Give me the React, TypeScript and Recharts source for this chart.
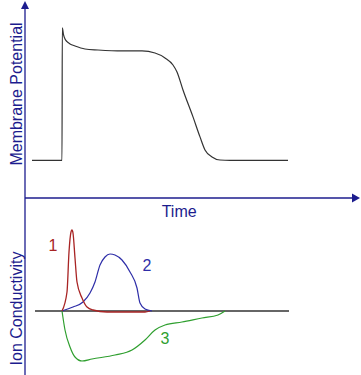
import React from "react"
import { LineChart, Line, XAxis, YAxis, Label, ReferenceDot } from "recharts"

// time axis (arbitrary units), shared by both panels
const timeDomain = [0, 328]

// membrane potential (mV) over time
const apTime = [7, 37, 37.3, 38.5, 40, 42, 45, 50, 60, 73, 97, 117, 130, 140, 148, 152, 158, 168, 175, 180, 187, 195, 205, 263]
const apVoltage = [-90, -90, 30, 24, 20, 17.5, 15.5, 13.6, 10.9, 10, 9.1, 9.1, 7.3, 2.8, -3.6, -9.9, -26.2, -50.6, -68.7, -80.5, -86.8, -89.6, -90, -90]

// ion conductivities (arbitrary units), each with its own time points
const baseTime = [10, 264]
const baseG = [0, 0]
const g1Time = [37, 42, 44, 46, 47, 48, 50, 52, 57, 62, 68, 82, 120, 125]
const g1Values = [0, 19, 59, 79, 81, 78, 53, 29, 13, 4, 1, -1, -1, 0]
const g2Time = [37, 48, 58, 65, 70, 75, 80, 85, 90, 97, 105, 112, 115, 120, 127]
const g2Values = [0, 4, 9, 18, 29, 46, 54, 57, 56, 51, 39, 23, 8, 2, 0]
const g3Time = [37, 40, 45, 50, 57, 67, 90, 107, 120, 130, 140, 157, 177, 193, 200]
const g3Values = [0, -19, -36, -46, -50, -48, -44, -39, -29, -19, -14, -11, -7, -4, 0]

const curveLabels = ["1", "2", "3"]
const labelTime = [28, 122, 140]
const labelG = [66, 46, -27]

const AXIS = "#1c1c8e"
const TRACE = "#333333"
const RED = "#a82424"
const BLUE = "#2e2ea8"
const GREEN = "#2f9f2f"
const FONT = "'Liberation Sans', Arial, sans-serif"

const toRows = (ts: number[], vs: number[], key: string) =>
  ts.map((t, i) => ({ t, [key]: vs[i] }))

const apData = toRows(apTime, apVoltage, "v")
const baseData = toRows(baseTime, baseG, "g")
const g1Data = toRows(g1Time, g1Values, "g")
const g2Data = toRows(g2Time, g2Values, "g")
const g3Data = toRows(g3Time, g3Values, "g")
const labelColors = [RED, BLUE, GREEN]

const YTitle = ({ viewBox, text, shift, arrow }: any) => {
  if (!viewBox) return null
  const { x, y, width, height } = viewBox
  const ax = x + width
  const tx = x + 22
  const cy = y + height / 2 + shift
  return (
    <g>
      {arrow && (
        <polygon points={`${ax},${y - 7} ${ax - 4},${y + 1} ${ax + 4},${y + 1}`} fill={AXIS} />
      )}
      <text
        x={tx}
        y={cy}
        transform={`rotate(-90 ${tx} ${cy})`}
        textAnchor="middle"
        fill={AXIS}
        fontSize={16}
        fontFamily={FONT}
      >
        {text}
      </text>
    </g>
  )
}

const XTitle = ({ viewBox }: any) => {
  if (!viewBox) return null
  const { x, y, width } = viewBox
  const end = x + width
  return (
    <g>
      <polygon points={`${end + 7},${y} ${end - 1},${y - 4.5} ${end - 1},${y + 4.5}`} fill={AXIS} />
      <text x={x + width * 0.47} y={y + 19} textAnchor="middle" fill={AXIS} fontSize={16} fontFamily={FONT}>
        Time
      </text>
    </g>
  )
}

export default function App() {
  return (
    <div style={{ position: "absolute", left: 0, top: 0, width: 361, height: 375, background: "#fff", fontFamily: FONT }}>
      <div style={{ position: "absolute", left: 0, top: 0 }}>
        <LineChart width={361} height={230} data={apData} margin={{ top: 8, right: 8, bottom: 0, left: 0 }}>
          <XAxis
            dataKey="t"
            type="number"
            domain={timeDomain}
            allowDataOverflow
            height={32}
            tick={false}
            tickLine={false}
            axisLine={{ stroke: AXIS, strokeWidth: 1.3 }}
          >
            <Label content={<XTitle />} />
          </XAxis>
          <YAxis
            type="number"
            domain={[-124, 48]}
            allowDataOverflow
            width={25}
            tick={false}
            tickLine={false}
            axisLine={{ stroke: AXIS, strokeWidth: 1.3 }}
          >
            <Label content={<YTitle text="Membrane Potential" shift={-9} arrow />} />
          </YAxis>
          <Line type="monotone" dataKey="v" stroke={TRACE} strokeWidth={1.2} dot={false} isAnimationActive={false} />
        </LineChart>
      </div>
      <div style={{ position: "absolute", left: 0, top: 198 }}>
        <LineChart width={361} height={177} margin={{ top: 0, right: 8, bottom: 0, left: 0 }}>
          <XAxis dataKey="t" type="number" domain={timeDomain} allowDataOverflow hide />
          <YAxis
            type="number"
            domain={[-64, 113]}
            allowDataOverflow
            width={25}
            tick={false}
            tickLine={false}
            axisLine={{ stroke: AXIS, strokeWidth: 1.3 }}
          >
            <Label content={<YTitle text="Ion Conductivity" shift={22} />} />
          </YAxis>
          <Line data={baseData} type="linear" dataKey="g" stroke={TRACE} strokeWidth={1.4} dot={false} isAnimationActive={false} />
          <Line data={g3Data} type="monotone" dataKey="g" stroke={GREEN} strokeWidth={1.2} dot={false} isAnimationActive={false} />
          <Line data={g2Data} type="monotone" dataKey="g" stroke={BLUE} strokeWidth={1.2} dot={false} isAnimationActive={false} />
          <Line data={g1Data} type="monotone" dataKey="g" stroke={RED} strokeWidth={1.3} dot={false} isAnimationActive={false} />
          {curveLabels.map((txt, i) => (
            <ReferenceDot
              key={txt}
              x={labelTime[i]}
              y={labelG[i]}
              r={0}
              fill="none"
              stroke="none"
              label={{ value: txt, position: "center", fill: labelColors[i], fontSize: 16, fontFamily: FONT }}
            />
          ))}
        </LineChart>
      </div>
    </div>
  )
}
